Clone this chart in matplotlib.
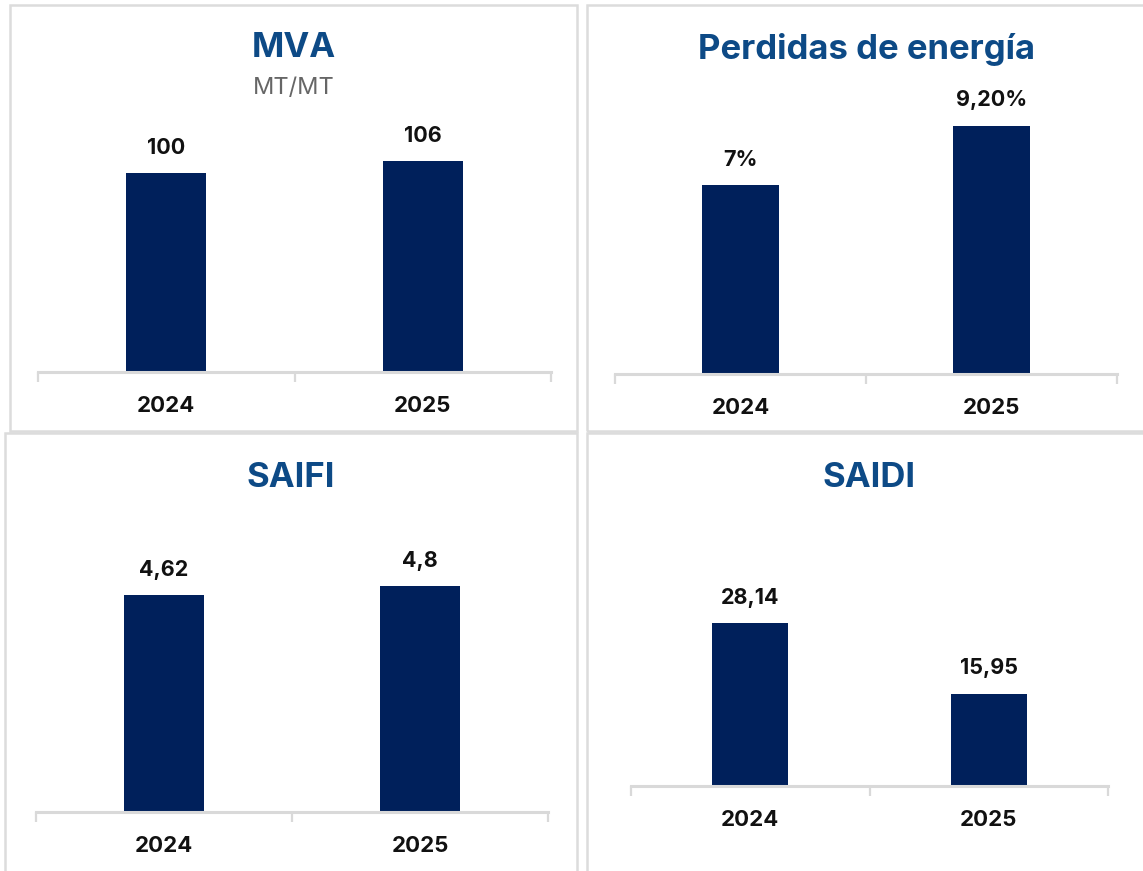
import matplotlib
matplotlib.use("Agg")
import matplotlib.pyplot as plt
from matplotlib.patches import Rectangle

W, H = 1143, 871

YEARS = ["2024", "2025"]

MVA = [100, 106]
MVA_LABELS = ["100", "106"]

PERDIDAS = [7.0, 9.2]
PERDIDAS_LABELS = ["7%", "9,20%"]

SAIFI = [4.62, 4.8]
SAIFI_LABELS = ["4,62", "4,8"]

SAIDI = [28.14, 15.95]
SAIDI_LABELS = ["28,14", "15,95"]

BAR = "#00205b"
TITLE = "#0d4a86"
GRID = "#d9d9d9"
FONT = "Inter"

plt.rcParams["font.family"] = [FONT, "DejaVu Sans"]

fig = plt.figure(figsize=(W / 100, H / 100), dpi=100)


def px_rect(x0, y0, x1, y1):
    # pixel box (top-left origin) -> figure fraction [l, b, w, h]
    return [x0 / W, 1 - y1 / H, (x1 - x0) / W, (y1 - y0) / H]


# panel frames
for x0, y0, x1, y1 in [(10, 5, 577, 431), (587, 5, 1148, 431),
                       (5, 433, 577, 876), (587, 433, 1148, 876)]:
    l, b, w, h = px_rect(x0, y0, x1, y1)
    fig.patches.append(Rectangle((l, b), w, h, transform=fig.transFigure,
                                 fill=False, edgecolor="#dcdcdc", lw=1.8))


def panel(box, ymax, values, labels, width=0.31):
    ax = fig.add_axes(px_rect(*box))
    ax.bar(range(len(values)), values, width=width, color=BAR, zorder=2)
    for i, (v, lab) in enumerate(zip(values, labels)):
        ax.annotate(lab, (i, v), xytext=(0, 11), textcoords="offset points",
                    ha="center", va="bottom", fontsize=15.5, fontweight="bold",
                    color="#111111", annotation_clip=False)
    ax.set_xlim(-0.5, len(values) - 0.5)
    ax.set_ylim(0, ymax)
    ax.set_xticks(range(len(values)))
    ax.set_xticklabels(YEARS, fontsize=16, fontweight="bold", color="#111111")
    ax.set_xticks([-0.5, 0.5, 1.5], minor=True)
    ax.tick_params(axis="x", which="major", length=0, pad=17)
    ax.tick_params(axis="x", which="minor", length=7, width=1.6, color=GRID)
    ax.set_yticks([])
    for s in ("top", "right", "left"):
        ax.spines[s].set_visible(False)
    ax.spines["bottom"].set_color(GRID)
    ax.spines["bottom"].set_linewidth(2.2)
    ax.patch.set_alpha(0)
    return ax


panel((38, 120, 551, 372), 252 / 1.99, MVA, MVA_LABELS)
panel((615, 120, 1117, 374), 254 / 27.0, PERDIDAS, PERDIDAS_LABELS)
panel((36, 550, 548, 812), 262 / 47.0, SAIFI, SAIFI_LABELS)
panel((631, 560, 1108, 786), 226 / 5.79, SAIDI, SAIDI_LABELS, width=0.32)

# panel titles
for x, y, txt in [(294, 48, "MVA"), (866, 50, "Perdidas de energía"),
                  (291, 478, "SAIFI"), (869, 478, "SAIDI")]:
    fig.text(x / W, 1 - y / H, txt, ha="center", va="center",
             fontsize=25, fontweight="bold", color=TITLE)
fig.text(294 / W, 1 - 88 / H, "MT/MT", ha="center", va="center",
         fontsize=17, color="#666666")

fig.savefig("out.png", dpi=100, facecolor="white")
